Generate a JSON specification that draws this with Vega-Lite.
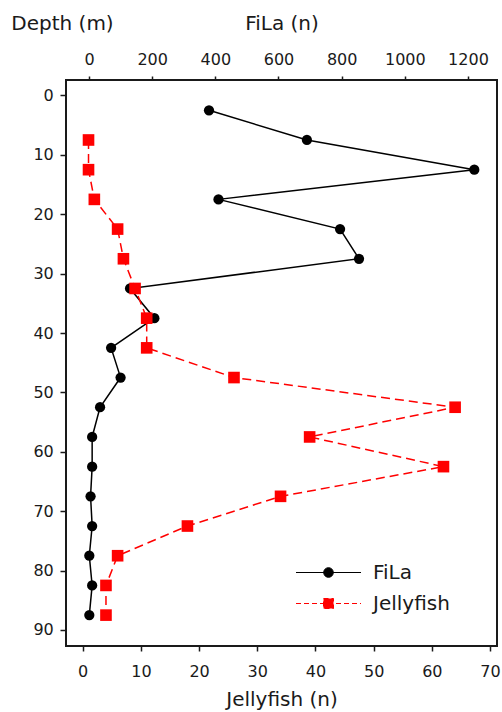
{
  "$schema": "https://vega.github.io/schema/vega-lite/v6.json",
  "width": 431,
  "height": 566,
  "autosize": {"type": "none"},
  "padding": {"left": 66, "top": 80, "right": 5, "bottom": 66},
  "background": "white",
  "config": {
    "font": "DejaVu Sans",
    "view": {"stroke": "#1a1a1a", "strokeWidth": 2},
    "axis": {
      "grid": false,
      "domain": false,
      "tickColor": "#1a1a1a",
      "tickWidth": 1.5,
      "labelFont": "DejaVu Sans",
      "labelFontSize": 16,
      "labelColor": "#1a1a1a",
      "titleFont": "DejaVu Sans",
      "titleFontSize": 20,
      "titleFontWeight": "normal",
      "titleColor": "#1a1a1a"
    }
  },
  "datasets": {
    "fila": [
      {"depth": 2.5, "count": 380, "series": "FiLa"},
      {"depth": 7.5, "count": 690, "series": "FiLa"},
      {"depth": 12.5, "count": 1220, "series": "FiLa"},
      {"depth": 17.5, "count": 410, "series": "FiLa"},
      {"depth": 22.5, "count": 795, "series": "FiLa"},
      {"depth": 27.5, "count": 855, "series": "FiLa"},
      {"depth": 32.5, "count": 130, "series": "FiLa"},
      {"depth": 37.5, "count": 207, "series": "FiLa"},
      {"depth": 42.5, "count": 70, "series": "FiLa"},
      {"depth": 47.5, "count": 100, "series": "FiLa"},
      {"depth": 52.5, "count": 35, "series": "FiLa"},
      {"depth": 57.5, "count": 10, "series": "FiLa"},
      {"depth": 62.5, "count": 10, "series": "FiLa"},
      {"depth": 67.5, "count": 5, "series": "FiLa"},
      {"depth": 72.5, "count": 10, "series": "FiLa"},
      {"depth": 77.5, "count": 1, "series": "FiLa"},
      {"depth": 82.5, "count": 10, "series": "FiLa"},
      {"depth": 87.5, "count": 1, "series": "FiLa"}
    ],
    "jelly": [
      {"depth": 7.5, "count": 1, "series": "Jellyfish"},
      {"depth": 12.5, "count": 1, "series": "Jellyfish"},
      {"depth": 17.5, "count": 2, "series": "Jellyfish"},
      {"depth": 22.5, "count": 6, "series": "Jellyfish"},
      {"depth": 27.5, "count": 7, "series": "Jellyfish"},
      {"depth": 32.5, "count": 9, "series": "Jellyfish"},
      {"depth": 37.5, "count": 11, "series": "Jellyfish"},
      {"depth": 42.5, "count": 11, "series": "Jellyfish"},
      {"depth": 47.5, "count": 26, "series": "Jellyfish"},
      {"depth": 52.5, "count": 64, "series": "Jellyfish"},
      {"depth": 57.5, "count": 39, "series": "Jellyfish"},
      {"depth": 62.5, "count": 62, "series": "Jellyfish"},
      {"depth": 67.5, "count": 34, "series": "Jellyfish"},
      {"depth": 72.5, "count": 18, "series": "Jellyfish"},
      {"depth": 77.5, "count": 6, "series": "Jellyfish"},
      {"depth": 82.5, "count": 4, "series": "Jellyfish"},
      {"depth": 87.5, "count": 4, "series": "Jellyfish"}
    ]
  },
  "encoding": {
    "y": {
      "field": "depth",
      "type": "quantitative",
      "scale": {"domain": [-2.6, 92.7], "reverse": true, "nice": false, "zero": false},
      "axis": {
        "values": [0, 10, 20, 30, 40, 50, 60, 70, 80, 90],
        "format": "d",
        "title": "Depth (m)",
        "titleAngle": 0,
        "titleAlign": "center",
        "titleBaseline": "alphabetic",
        "titleX": -4,
        "titleY": -51,
        "tickSize": 6,
        "labelPadding": 6.7
      }
    },
    "color": {
      "field": "series",
      "type": "nominal",
      "scale": {"domain": ["FiLa", "Jellyfish"], "range": ["black", "red"]},
      "legend": {
        "orient": "none",
        "legendX": 252,
        "legendY": 482,
        "title": null,
        "padding": 0,
        "symbolSize": 400,
        "symbolStrokeWidth": 1,
        "labelFontSize": 20,
        "labelFont": "DejaVu Sans",
        "labelColor": "#1a1a1a",
        "labelOffset": 34,
        "rowPadding": 10,
        "encode": {
          "symbols": {
            "update": {
              "shape": {"signal": "datum.value === 'FiLa' ? 'M-3.25,0H3.25M0.48,0A0.48,0.48,0,1,1,-0.48,0A0.48,0.48,0,1,1,0.48,0Z' : 'M-3.25,0H3.25M-0.5,-0.5H0.5V0.5H-0.5Z'"},
              "fill": {"signal": "datum.value === 'FiLa' ? 'black' : 'red'"},
              "stroke": {"signal": "datum.value === 'FiLa' ? 'black' : '#ff7070'"},
              "strokeDash": {"signal": "datum.value === 'FiLa' ? [] : [5, 3]"},
              "strokeWidth": {"value": 1},
              "opacity": {"value": 1},
              "size": {"value": 400}
            }
          }
        }
      }
    }
  },
  "layer": [
    {
      "data": {"name": "fila"},
      "encoding": {
        "x": {
          "field": "count",
          "type": "quantitative",
          "scale": {"domain": [-72.8, 1291.9], "nice": false, "zero": false},
          "axis": {
            "orient": "top",
            "values": [0, 200, 400, 600, 800, 1000, 1200],
            "format": "d",
            "title": "FiLa (n)",
            "tickSize": 4,
            "labelBaseline": "alphabetic",
            "labelPadding": 11.5,
            "titleBaseline": "alphabetic",
            "titleY": -51
          }
        }
      },
      "layer": [
        {
          "mark": {"type": "line", "strokeWidth": 1.5},
          "encoding": {"order": {"field": "depth", "type": "quantitative"}}
        },
        {
          "mark": {"type": "point", "shape": "circle", "filled": true, "opacity": 1, "size": 105, "strokeWidth": 0}
        }
      ]
    },
    {
      "data": {"name": "jelly"},
      "encoding": {
        "x": {
          "field": "count",
          "type": "quantitative",
          "scale": {"domain": [-2.87, 71.2], "nice": false, "zero": false},
          "axis": {
            "orient": "bottom",
            "values": [0, 10, 20, 30, 40, 50, 60, 70],
            "format": "d",
            "title": "Jellyfish (n)",
            "tickSize": 5,
            "labelBaseline": "alphabetic",
            "labelPadding": 25.7,
            "titleBaseline": "alphabetic",
            "titleY": 59
          }
        }
      },
      "layer": [
        {
          "mark": {"type": "line", "strokeWidth": 1.5, "strokeDash": [9, 5]},
          "encoding": {"order": {"field": "depth", "type": "quantitative"}}
        },
        {
          "mark": {"type": "point", "shape": "square", "filled": true, "opacity": 1, "size": 135, "strokeWidth": 0}
        }
      ]
    }
  ],
  "resolve": {"scale": {"x": "independent"}}
}
